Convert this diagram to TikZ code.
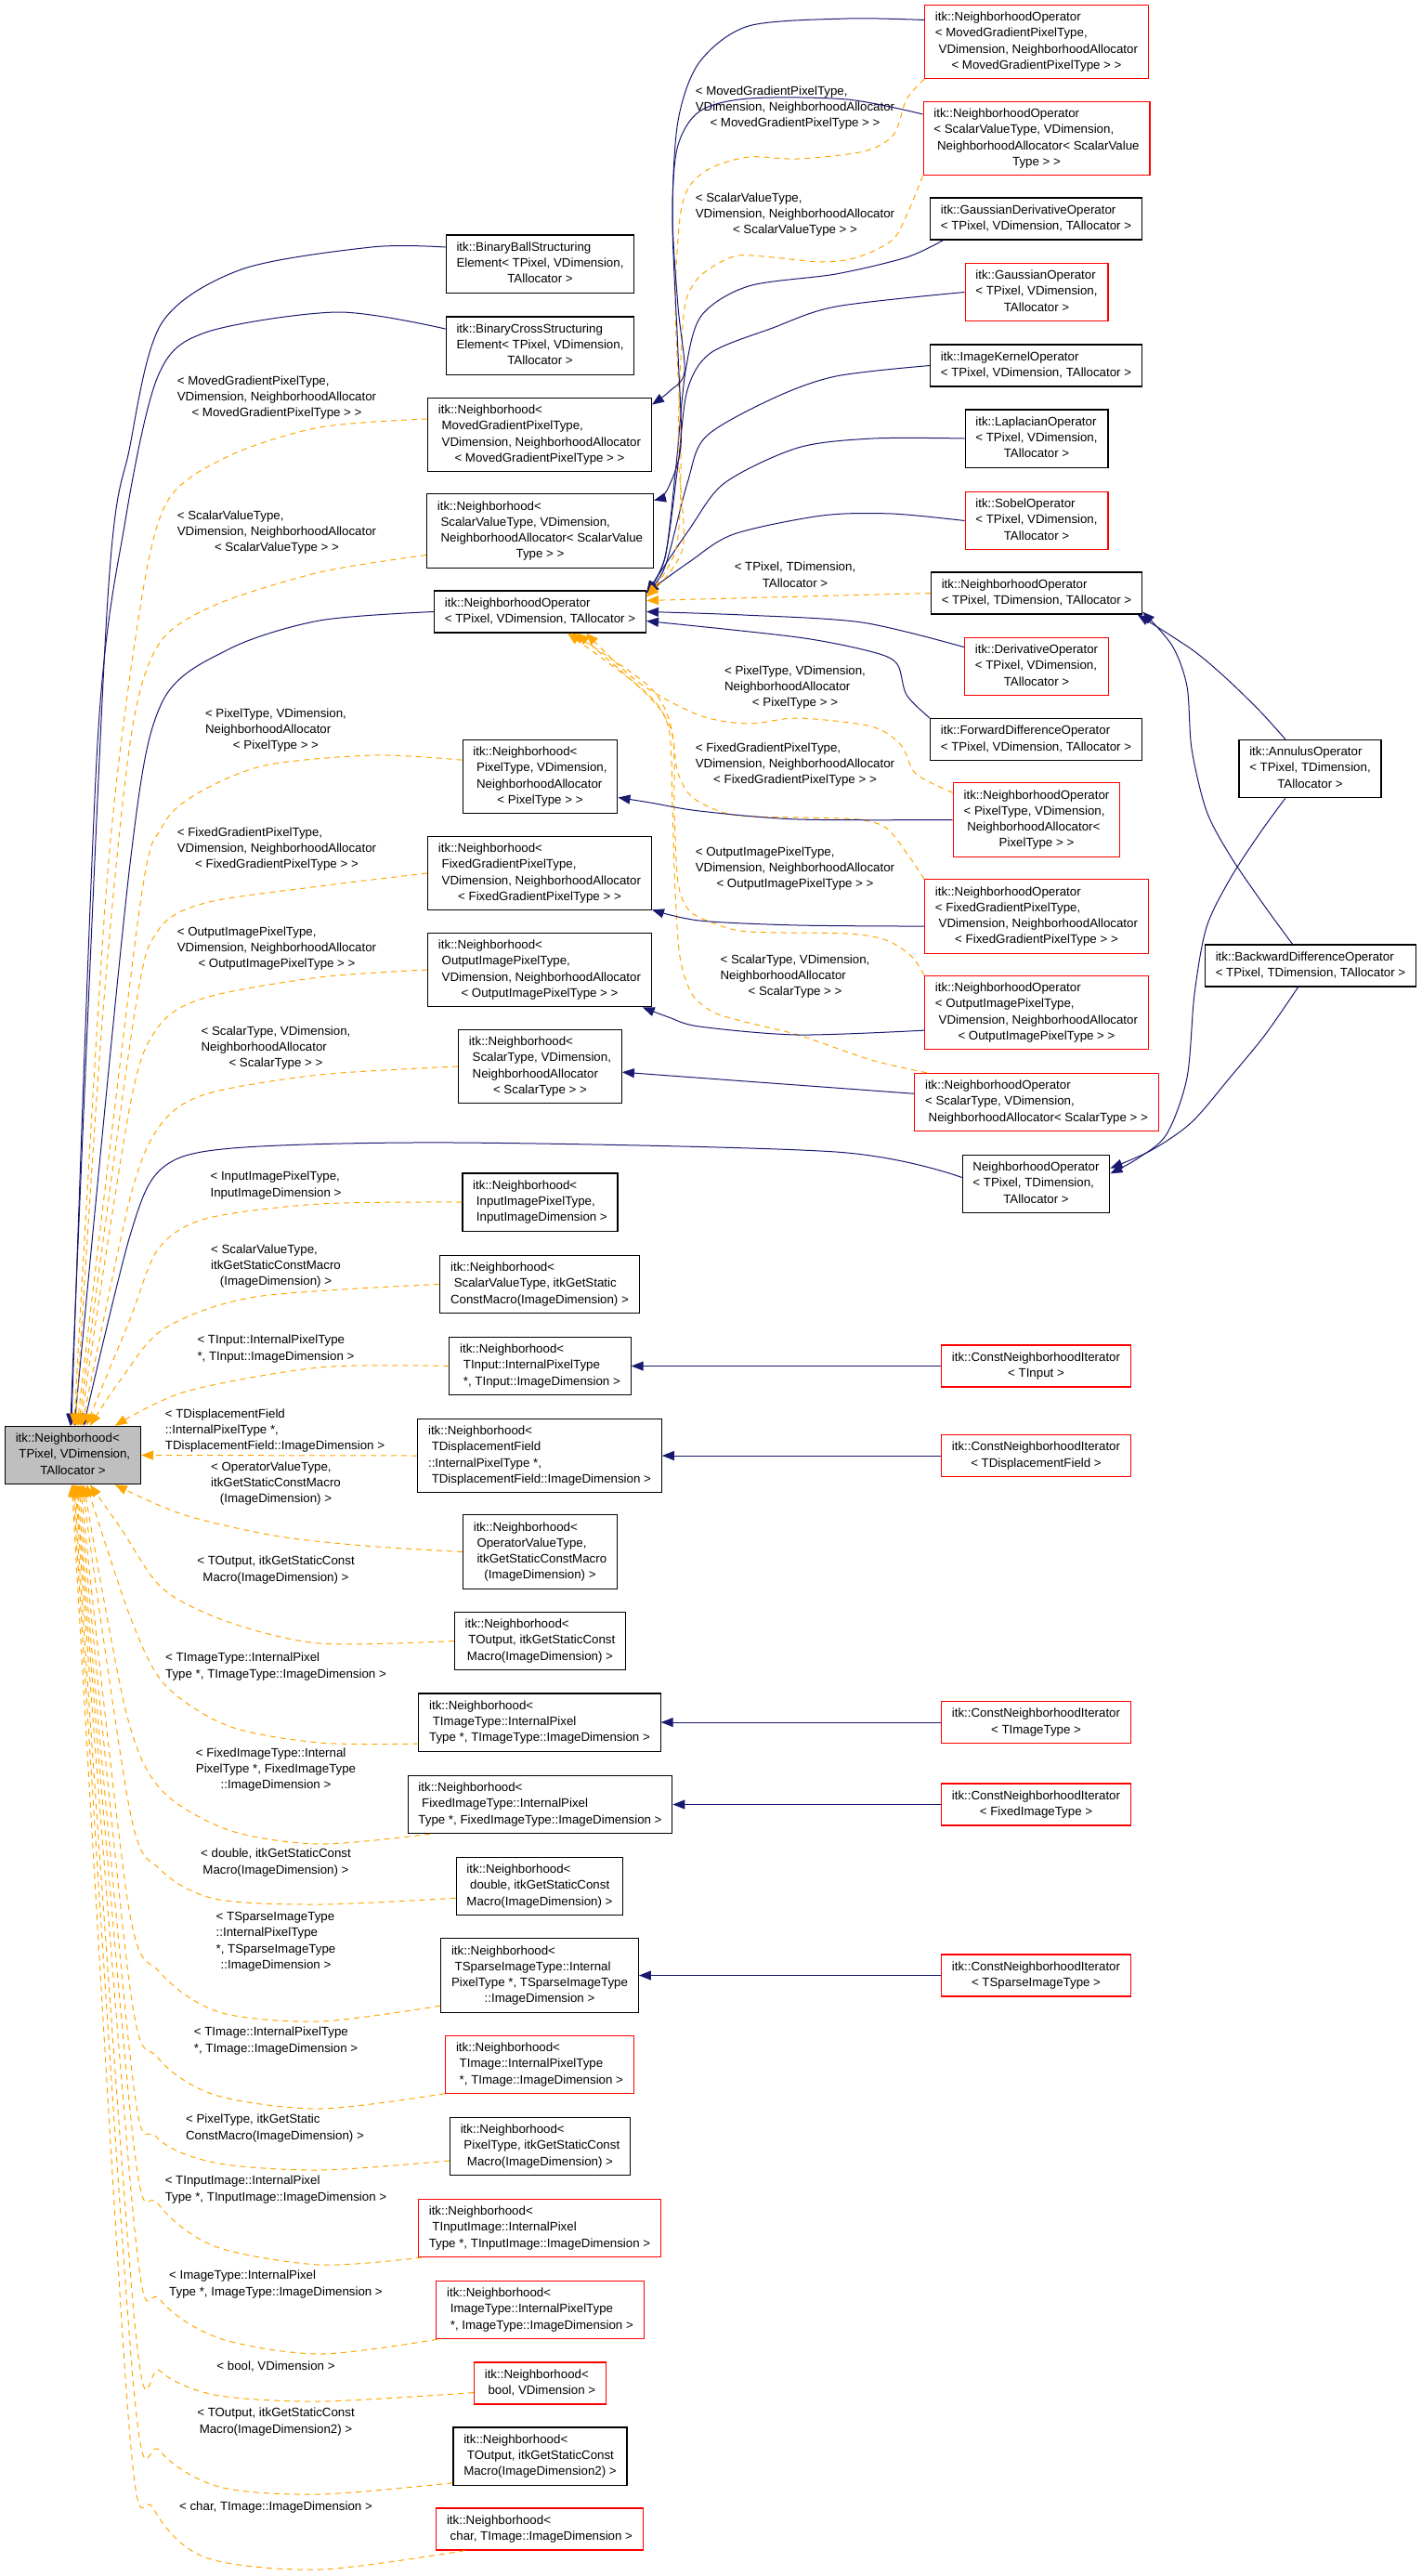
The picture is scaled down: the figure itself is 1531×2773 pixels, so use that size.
\documentclass[tikz,border=0pt]{standalone}
\usepackage{fontspec}
\setmainfont{Liberation Sans}
\usetikzlibrary{arrows.meta}
\definecolor{edgeblue}{RGB}{25,25,112}
\definecolor{tplorange}{RGB}{255,165,0}
\definecolor{rootgrey}{RGB}{191,191,191}
\newcommand{\gfont}{\fontsize{13.3}{17.2}\selectfont}
% all lines left, the last one centred
\newcommand{\lns}[2]{\begin{tabular}{@{}l@{}}#1\\\multicolumn{1}{@{}c@{}}{#2}\end{tabular}}
\tikzset{
  cls/.style={draw=black, line width=1.2pt, fill=white, inner xsep=11.3pt, inner ysep=5.3pt, font=\gfont},
  undoc/.style={cls, draw=red},
  rootcls/.style={cls, fill=rootgrey},
  tlabel/.style={inner sep=0pt, font=\gfont},
  pub/.style={draw=edgeblue, line width=1pt, -{Triangle[length=13pt,width=10pt]}},
  tpl/.style={draw=tplorange, line width=1pt, dash pattern=on 6pt off 5pt, -{Triangle[length=13pt,width=10pt]}},
}
\begin{document}
\begin{tikzpicture}[x=1pt,y=-1pt]
\useasboundingbox (0,0) rectangle (1531,2773);

% base class
\node[rootcls] (R) at (78.5,1566.5) {\lns{itk::Neighborhood<\\\ TPixel, VDimension,}{TAllocator >}};

% middle column
\node[cls] (bball) at (581.5,284) {\lns{itk::BinaryBallStructuring\\Element< TPixel, VDimension,}{TAllocator >}};
\node[cls] (bcross) at (581.5,372) {\lns{itk::BinaryCrossStructuring\\Element< TPixel, VDimension,}{TAllocator >}};
\node[cls] (nMoved) at (581,468) {\lns{itk::Neighborhood<\\\ MovedGradientPixelType,\\\ VDimension, NeighborhoodAllocator}{< MovedGradientPixelType > >}};
\node[cls] (nSVal) at (581.5,571.5) {\lns{itk::Neighborhood<\\\ ScalarValueType, VDimension,\\\ NeighborhoodAllocator< ScalarValue}{Type > >}};
\node[cls] (nop) at (581.5,658.5) {\lns{itk::NeighborhoodOperator}{< TPixel, VDimension, TAllocator >}};
\node[cls] (nPix) at (581.5,836) {\lns{itk::Neighborhood<\\\ PixelType, VDimension,\\\ NeighborhoodAllocator}{< PixelType > >}};
\node[cls] (nFixG) at (581,940) {\lns{itk::Neighborhood<\\\ FixedGradientPixelType,\\\ VDimension, NeighborhoodAllocator}{< FixedGradientPixelType > >}};
\node[cls] (nOut) at (581,1044) {\lns{itk::Neighborhood<\\\ OutputImagePixelType,\\\ VDimension, NeighborhoodAllocator}{< OutputImagePixelType > >}};
\node[cls] (nScal) at (581.5,1148) {\lns{itk::Neighborhood<\\\ ScalarType, VDimension,\\\ NeighborhoodAllocator}{< ScalarType > >}};
\node[cls] (nInImg) at (581.5,1294) {\lns{itk::Neighborhood<\\\ InputImagePixelType,}{\ InputImageDimension >}};
\node[cls] (nSValM) at (581,1382.5) {\lns{itk::Neighborhood<\\\ ScalarValueType, itkGetStatic}{ConstMacro(ImageDimension) >}};
\node[cls] (nTIn) at (581.5,1470.5) {\lns{itk::Neighborhood<\\\ TInput::InternalPixelType}{\ *, TInput::ImageDimension >}};
\node[cls] (nTDisp) at (581,1567) {\lns{itk::Neighborhood<\\\ TDisplacementField\\::InternalPixelType *,}{\ TDisplacementField::ImageDimension >}};
\node[cls] (nOpVal) at (581.5,1670.5) {\lns{itk::Neighborhood<\\\ OperatorValueType,\\\ itkGetStaticConstMacro}{(ImageDimension) >}};
\node[cls] (nTOut) at (581.5,1766.5) {\lns{itk::Neighborhood<\\\ TOutput, itkGetStaticConst}{Macro(ImageDimension) >}};
\node[cls] (nTImgT) at (581,1854) {\lns{itk::Neighborhood<\\\ TImageType::InternalPixel}{Type *, TImageType::ImageDimension >}};
\node[cls] (nFixI) at (581.5,1942.5) {\lns{itk::Neighborhood<\\\ FixedImageType::InternalPixel}{Type *, FixedImageType::ImageDimension >}};
\node[cls] (nDbl) at (581,2030.5) {\lns{itk::Neighborhood<\\\ double, itkGetStaticConst}{Macro(ImageDimension) >}};
\node[cls] (nSparse) at (581,2126.5) {\lns{itk::Neighborhood<\\\ TSparseImageType::Internal\\PixelType *, TSparseImageType}{::ImageDimension >}};
\node[undoc] (nTImg) at (581,2222.5) {\lns{itk::Neighborhood<\\\ TImage::InternalPixelType}{\ *, TImage::ImageDimension >}};
\node[cls] (nPixM) at (581.5,2310.5) {\lns{itk::Neighborhood<\\\ PixelType, itkGetStaticConst}{Macro(ImageDimension) >}};
\node[undoc] (nTInImg) at (581,2398.5) {\lns{itk::Neighborhood<\\\ TInputImage::InternalPixel}{Type *, TInputImage::ImageDimension >}};
\node[undoc] (nImgT) at (581.5,2486.5) {\lns{itk::Neighborhood<\\\ ImageType::InternalPixelType}{\ *, ImageType::ImageDimension >}};
\node[undoc] (nBool) at (581.5,2565.5) {\lns{itk::Neighborhood<}{\ bool, VDimension >}};
\node[cls] (nTOut2) at (581.5,2644) {\lns{itk::Neighborhood<\\\ TOutput, itkGetStaticConst}{Macro(ImageDimension2) >}};
\node[undoc] (nChar) at (581,2722.5) {\lns{itk::Neighborhood<}{\ char, TImage::ImageDimension >}};

% right column
\node[undoc] (noMoved) at (1116,45) {\lns{itk::NeighborhoodOperator\\< MovedGradientPixelType,\\\ VDimension, NeighborhoodAllocator}{< MovedGradientPixelType > >}};
\node[undoc] (noSVal) at (1116,149) {\lns{itk::NeighborhoodOperator\\< ScalarValueType, VDimension,\\\ NeighborhoodAllocator< ScalarValue}{Type > >}};
\node[cls] (gaussD) at (1115.5,235.5) {\lns{itk::GaussianDerivativeOperator}{< TPixel, VDimension, TAllocator >}};
\node[undoc] (gauss) at (1116,314.5) {\lns{itk::GaussianOperator\\< TPixel, VDimension,}{TAllocator >}};
\node[cls] (kernel) at (1115.5,393.5) {\lns{itk::ImageKernelOperator}{< TPixel, VDimension, TAllocator >}};
\node[cls] (lapl) at (1116,472) {\lns{itk::LaplacianOperator\\< TPixel, VDimension,}{TAllocator >}};
\node[undoc] (sobel) at (1116,560.5) {\lns{itk::SobelOperator\\< TPixel, VDimension,}{TAllocator >}};
\node[cls] (noTD) at (1116,638.5) {\lns{itk::NeighborhoodOperator}{< TPixel, TDimension, TAllocator >}};
\node[undoc] (deriv) at (1116,717.5) {\lns{itk::DerivativeOperator\\< TPixel, VDimension,}{TAllocator >}};
\node[cls] (fwd) at (1115.5,796) {\lns{itk::ForwardDifferenceOperator}{< TPixel, VDimension, TAllocator >}};
\node[undoc] (noPix) at (1116,882.5) {\lns{itk::NeighborhoodOperator\\< PixelType, VDimension,\\\ NeighborhoodAllocator<}{PixelType > >}};
\node[undoc] (noFixG) at (1116,986.5) {\lns{itk::NeighborhoodOperator\\< FixedGradientPixelType,\\\ VDimension, NeighborhoodAllocator}{< FixedGradientPixelType > >}};
\node[undoc] (noOut) at (1116,1090) {\lns{itk::NeighborhoodOperator\\< OutputImagePixelType,\\\ VDimension, NeighborhoodAllocator}{< OutputImagePixelType > >}};
\node[undoc] (noScal) at (1116,1186.5) {\lns{itk::NeighborhoodOperator\\< ScalarType, VDimension,}{\ NeighborhoodAllocator< ScalarType > >}};
\node[cls] (nop2) at (1115.5,1274.5) {\lns{NeighborhoodOperator\\< TPixel, TDimension,}{TAllocator >}};
\node[cls] (annulus) at (1410.5,827.5) {\lns{itk::AnnulusOperator\\< TPixel, TDimension,}{TAllocator >}};
\node[cls] (backw) at (1411,1039.5) {\lns{itk::BackwardDifferenceOperator}{< TPixel, TDimension, TAllocator >}};
\node[undoc] (cniIn) at (1115.5,1470.5) {\lns{itk::ConstNeighborhoodIterator}{< TInput >}};
\node[undoc] (cniDisp) at (1115.5,1567) {\lns{itk::ConstNeighborhoodIterator}{< TDisplacementField >}};
\node[undoc] (cniImgT) at (1115.5,1854) {\lns{itk::ConstNeighborhoodIterator}{< TImageType >}};
\node[undoc] (cniFix) at (1115.5,1942.5) {\lns{itk::ConstNeighborhoodIterator}{< FixedImageType >}};
\node[undoc] (cniSparse) at (1115.5,2126.5) {\lns{itk::ConstNeighborhoodIterator}{< TSparseImageType >}};

% template argument labels
\node[tlabel] (l1) at (298,428) {\lns{< MovedGradientPixelType,\\VDimension, NeighborhoodAllocator}{< MovedGradientPixelType > >}};
\node[tlabel] (l2) at (298,573) {\lns{< ScalarValueType,\\VDimension, NeighborhoodAllocator}{< ScalarValueType > >}};
\node[tlabel] (l3) at (297,786) {\lns{< PixelType, VDimension,\\NeighborhoodAllocator}{< PixelType > >}};
\node[tlabel] (l4) at (298,914) {\lns{< FixedGradientPixelType,\\VDimension, NeighborhoodAllocator}{< FixedGradientPixelType > >}};
\node[tlabel] (l5) at (298,1021) {\lns{< OutputImagePixelType,\\VDimension, NeighborhoodAllocator}{< OutputImagePixelType > >}};
\node[tlabel] (l6) at (297,1128) {\lns{< ScalarType, VDimension,\\NeighborhoodAllocator}{< ScalarType > >}};
\node[tlabel] (l7) at (297,1276) {\lns{< InputImagePixelType,}{InputImageDimension >}};
\node[tlabel] (l8) at (297,1363) {\lns{< ScalarValueType,\\itkGetStaticConstMacro}{(ImageDimension) >}};
\node[tlabel] (l9) at (297,1452) {\lns{< TInput::InternalPixelType}{*, TInput::ImageDimension >}};
\node[tlabel] (l10) at (296,1540) {\lns{< TDisplacementField\\::InternalPixelType *,}{TDisplacementField::ImageDimension >}};
\node[tlabel] (l11) at (297,1597) {\lns{< OperatorValueType,\\itkGetStaticConstMacro}{(ImageDimension) >}};
\node[tlabel] (l12) at (297,1690) {\lns{< TOutput, itkGetStaticConst}{Macro(ImageDimension) >}};
\node[tlabel] (l13) at (297,1794) {\lns{< TImageType::InternalPixel}{Type *, TImageType::ImageDimension >}};
\node[tlabel] (l14) at (297,1905) {\lns{< FixedImageType::Internal\\PixelType *, FixedImageType}{::ImageDimension >}};
\node[tlabel] (l15) at (297,2005) {\lns{< double, itkGetStaticConst}{Macro(ImageDimension) >}};
\node[tlabel] (l16) at (297,2090) {\lns{< TSparseImageType\\::InternalPixelType\\{}*, TSparseImageType}{::ImageDimension >}};
\node[tlabel] (l17) at (297,2197) {\lns{< TImage::InternalPixelType}{*, TImage::ImageDimension >}};
\node[tlabel] (l18) at (296,2291) {\lns{< PixelType, itkGetStatic}{ConstMacro(ImageDimension) >}};
\node[tlabel] (l19) at (297,2357) {\lns{< TInputImage::InternalPixel}{Type *, TInputImage::ImageDimension >}};
\node[tlabel] (l20) at (297,2459) {\lns{< ImageType::InternalPixel}{Type *, ImageType::ImageDimension >}};
\node[tlabel] (l21) at (297,2547) {< bool, VDimension >};
\node[tlabel] (l22) at (297,2607) {\lns{< TOutput, itkGetStaticConst}{Macro(ImageDimension2) >}};
\node[tlabel] (l23) at (297,2699) {< char, TImage::ImageDimension >};
\node[tlabel] (r1) at (856,116) {\lns{< MovedGradientPixelType,\\VDimension, NeighborhoodAllocator}{< MovedGradientPixelType > >}};
\node[tlabel] (r2) at (856,231) {\lns{< ScalarValueType,\\VDimension, NeighborhoodAllocator}{< ScalarValueType > >}};
\node[tlabel] (r3) at (856,620) {\lns{< TPixel, TDimension,}{TAllocator >}};
\node[tlabel] (r4) at (856,740) {\lns{< PixelType, VDimension,\\NeighborhoodAllocator}{< PixelType > >}};
\node[tlabel] (r5) at (856,823) {\lns{< FixedGradientPixelType,\\VDimension, NeighborhoodAllocator}{< FixedGradientPixelType > >}};
\node[tlabel] (r6) at (856,935) {\lns{< OutputImagePixelType,\\VDimension, NeighborhoodAllocator}{< OutputImagePixelType > >}};
\node[tlabel] (r7) at (856,1051) {\lns{< ScalarType, VDimension,\\NeighborhoodAllocator}{< ScalarType > >}};

% public inheritance into the base
\draw[pub] plot[smooth] coordinates {(bball.170) (400,266) (260,290) (174,348) (140,480) (115,660) (R.95)};
\draw[pub] plot[smooth] coordinates {(bcross.170) (363,336) (221,358) (170,405) (135,560) (105,800) (R.93)};
\draw[pub] plot[smooth] coordinates {(nop.west) (344,668) (246,699) (174,757) (140,930) (R.87)};
\draw[pub] plot[smooth] coordinates {(nop2.175) (900,1240) (491,1230) (250,1236) (174,1258) (140,1330) (R.70)};

% template instances from above
\draw[tpl] plot[smooth] coordinates {(nMoved.172) (344,460) (246,491) (180,540) (150,660) (115,950) (R.88)};
\draw[tpl] plot[smooth] coordinates {(nSVal.192) (344,616) (230,652) (170,695) (140,800) (110,1100) (R.85)};
\draw[tpl] plot[smooth] coordinates {(nPix.168) (403,813) (285,824) (211,855) (174,891) (150,980) (R.82)};
\draw[tpl] plot[smooth] coordinates {(nFixG.west) (344,954) (221,972) (170,1002) (145,1090) (R.79)};
\draw[tpl] plot[smooth] coordinates {(nOut.west) (344,1052) (221,1074) (170,1106) (140,1190) (R.76)};
\draw[tpl] plot[smooth] coordinates {(nScal.west) (344,1157) (221,1178) (172,1212) (140,1290) (R.73)};
\draw[tpl] plot[smooth] coordinates {(nInImg.west) (344,1296) (221,1312) (170,1345) (140,1420) (R.66)};
\draw[tpl] plot[smooth] coordinates {(nSValM.west) (275,1396) (177,1430) (130,1485) (R.60)};
\draw[tpl] plot[smooth] coordinates {(nTIn.west) (344,1472) (200,1498) (R.35)};
\draw[tpl] (nTDisp.west) -- (R.east);

% template instances from below
\draw[tpl] plot[smooth] coordinates {(nOpVal.west) (393,1664) (295,1653) (196,1630) (R.-35)};
\draw[tpl] plot[smooth] coordinates {(nTOut.west) (344,1769) (246,1746) (175,1710) (130,1645) (R.-60)};
\draw[tpl] plot[smooth] coordinates {(nTImgT.190) (344,1876) (246,1858) (177,1813) (140,1740) (R.-65)};
\draw[tpl] plot[smooth] coordinates {(nFixI.195) (344,1985) (246,1970) (172,1925) (135,1840) (R.-70)};
\draw[tpl] plot[smooth] coordinates {(nDbl.188) (344,2050) (231,2044) (172,2012) (140,1950) (R.-73)};
\draw[tpl] plot[smooth] coordinates {(nSparse.197) (344,2176) (236,2166) (172,2123) (138,2050) (R.-76)};
\draw[tpl] plot[smooth] coordinates {(nTImg.197) (344,2270) (231,2255) (170,2215) (140,2140) (R.-79)};
\draw[tpl] plot[smooth] coordinates {(nPixM.189) (344,2336) (231,2328) (168,2300) (142,2230) (R.-82)};
\draw[tpl] plot[smooth] coordinates {(nTInImg.194) (344,2438) (231,2418) (170,2372) (143,2300) (R.-84)};
\draw[tpl] plot[smooth] coordinates {(nImgT.196) (344,2534) (236,2517) (172,2475) (145,2400) (R.-86)};
\draw[tpl] plot[smooth] coordinates {(nBool.188) (344,2585) (231,2578) (172,2552) (145,2500) (R.-88)};
\draw[tpl] plot[smooth] coordinates {(nTOut2.197) (344,2685) (236,2677) (172,2638) (143,2560) (R.-90)};
\draw[tpl] plot[smooth] coordinates {(nChar.196) (344,2766) (221,2753) (165,2700) (138,2600) (R.-92)};

% operators into itk::NeighborhoodOperator
\draw[pub] plot[smooth] coordinates {(gaussD.193) (976,277) (900,295) (806,308) (755,340) (738,400) (728,500) (716,600) (nop.10)};
\draw[pub] plot[smooth] coordinates {(gauss.west) (900,330) (832,353) (765,380) (740,420) (730,500) (716,600) (nop.10)};
\draw[pub] plot[smooth] coordinates {(kernel.west) (900,405) (832,429) (760,470) (740,520) (716,610) (nop.10)};
\draw[pub] plot[smooth] coordinates {(lapl.west) (940,472) (859,482) (780,520) (742,570) (nop.10)};
\draw[pub] plot[smooth] coordinates {(sobel.west) (960,553) (885,555) (790,575) (742,605) (nop.10)};
\draw[pub] plot[smooth] coordinates {(deriv.165) (928,670) (800,662) (nop.0)};
\draw[pub] plot[smooth] coordinates {(fwd.north west) (976,748) (966,715) (940,702) (859,686) (nop.-5)};
\draw[tpl] (noTD.west) -- (nop.6);
\draw[tpl] plot[smooth] coordinates {(noMoved.south west) (976,107) (962,145) (930,163) (859,171) (806,169) (765,181) (742,201) (732,235) (727,330) (733,480) (728,590) (nop.8)};
\draw[tpl] plot[smooth] coordinates {(noSVal.south west) (976,232) (960,259) (923,277) (885,282) (832,277) (795,275) (769,286) (748,304) (736,340) (730,480) (735,590) (nop.8)};
\draw[tpl] plot[smooth] coordinates {(noPix.162) (986,833) (970,802) (938,782) (859,773) (806,779) (753,770) (688,735) (nop.-25)};
\draw[tpl] plot[smooth] coordinates {(noFixG.north west) (976,918) (954,891) (923,882) (859,880) (795,878) (764,869) (742,855) (729,829) (722,784) (697,748) (nop.-30)};
\draw[tpl] plot[smooth] coordinates {(noOut.north west) (981,1029) (954,1012) (912,1005) (806,1003) (769,994) (742,980) (730,950) (726,873) (724,790) (700,740) (nop.-34)};
\draw[tpl] plot[smooth] coordinates {(noScal.165) (938,1141) (859,1114) (806,1101) (769,1090) (745,1070) (732,1030) (727,960) (724,870) (720,785) (695,745) (nop.-38)};

% operators into their Neighborhood
\draw[pub] plot[smooth] coordinates {(noMoved.169) (912,20) (806,28) (753,67) (730,130) (724,230) (730,330) (737,400) (721,421) (nMoved.15)};
\draw[pub] plot[smooth] coordinates {(noSVal.168) (912,107) (806,106) (753,120) (729,160) (724,240) (730,380) (733,480) (718,528) (nSVal.15)};
\draw[pub] plot[smooth] coordinates {(noPix.west) (859,882) (753,873) (700,864) (nPix.-15)};
\draw[pub] plot[smooth] coordinates {(noFixG.185) (859,996) (753,991) (nFixG.-18)};
\draw[pub] plot[smooth] coordinates {(noOut.189) (859,1114) (753,1105) (720,1095) (nOut.-20)};
\draw[pub] (noScal.176) -- (nScal.-4);
\foreach \a/\b in {cniIn/nTIn, cniDisp/nTDisp, cniImgT/nTImgT, cniFix/nFixI, cniSparse/nSparse}
  \draw[pub] (\a) -- (\b);

% annulus and backward difference
\draw[pub] plot[smooth] coordinates {(annulus.130) (1357,766) (1320,730) (1283,699) (noTD.-12)};
\draw[pub] plot[smooth] coordinates {(backw.130) (1362,976) (1325,922) (1299,873) (1283,806) (1278,739) (1262,695) (noTD.-10)};
\draw[pub] plot[smooth] coordinates {(annulus.230) (1357,896) (1325,945) (1299,998) (1286,1070) (1278,1160) (1256,1221) (1225,1247) (nop2.8)};
\draw[pub] plot[smooth] coordinates {(backw.240) (1362,1114) (1325,1159) (1283,1208) (1240,1238) (nop2.12)};
\end{tikzpicture}
\end{document}
